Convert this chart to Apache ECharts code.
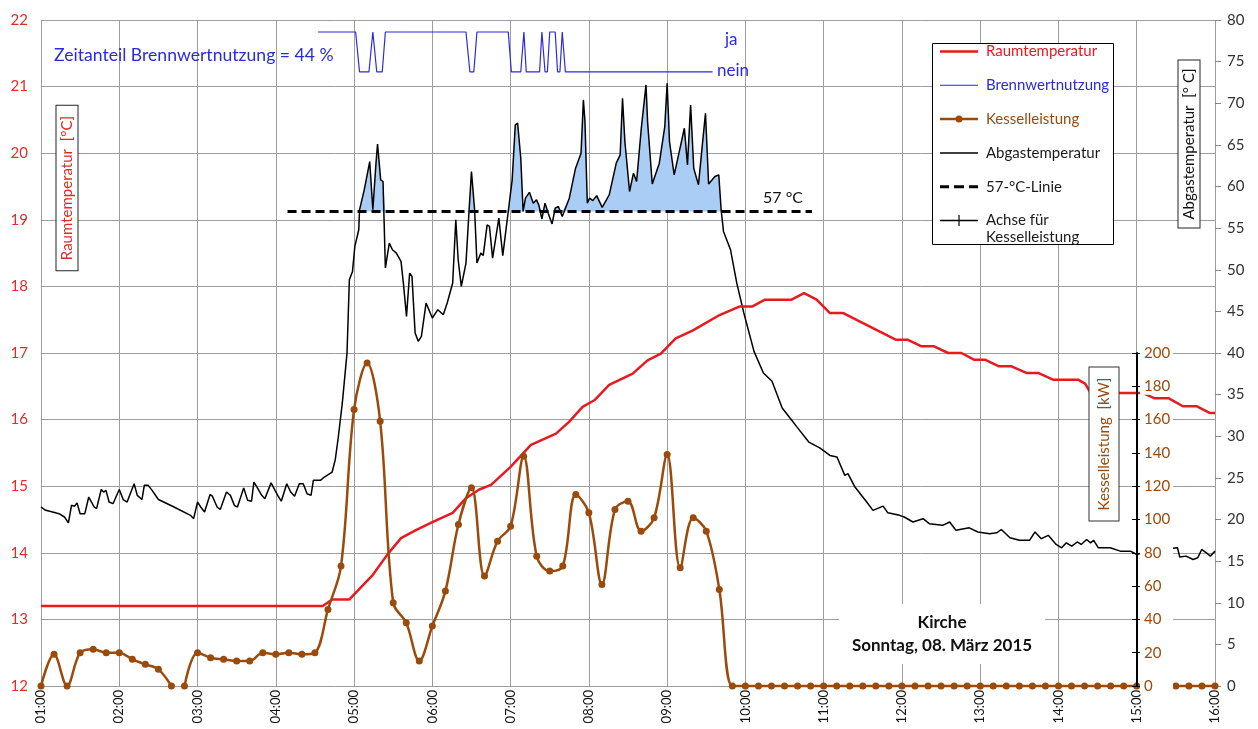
<!DOCTYPE html>
<html><head><meta charset="utf-8">
<script src="https://cdn.jsdelivr.net/npm/echarts@6/dist/echarts.min.js"></script>
<style>html,body{margin:0;padding:0;background:#fff}#c{width:1258px;height:729px}</style>
</head><body><div id="c"></div>
<script>
const FONT = 'Lato, "Open Sans", sans-serif';

// Raumtemperatur [°C] (left axis); time in hours
const raumStunde = [1.0,4.6,4.72,4.94,5.24,5.43,5.6,5.79,6.0,6.26,6.43,6.6,6.75,7.0,7.26,7.58,7.75,7.92,8.07,8.26,8.56,8.75,8.92,9.11,9.33,9.67,9.93,10.09,10.25,10.59,10.75,10.91,11.08,11.25,11.92,12.07,12.25,12.41,12.59,12.76,12.92,13.06,13.24,13.4,13.59,13.74,13.93,14.25,14.34,14.41,15.09,15.13,15.23,15.41,15.59,15.77,15.93,16.0];
const raumTemp   = [13.2,13.2,13.3,13.3,13.67,13.98,14.22,14.34,14.46,14.6,14.82,14.95,15.02,15.29,15.62,15.79,15.97,16.19,16.29,16.52,16.69,16.89,16.99,17.22,17.34,17.57,17.7,17.7,17.8,17.8,17.9,17.8,17.6,17.6,17.2,17.2,17.1,17.1,17.0,17.0,16.9,16.9,16.8,16.8,16.7,16.7,16.6,16.6,16.54,16.4,16.4,16.37,16.32,16.32,16.2,16.2,16.1,16.1];

// Brennwertnutzung: 1 = ja, 0 = nein
const brennStunde = [4.54,5.02,5.07,5.19,5.24,5.29,5.36,5.40,6.43,6.48,6.53,6.57,6.97,7.01,7.13,7.17,7.20,7.37,7.40,7.44,7.47,7.50,7.57,7.60,7.63,7.66,7.70,9.58];
const brennStatus = [1,1,0,0,1,0,0,1,1,0,0,1,1,0,0,1,0,0,1,0,0,1,1,0,0,1,0,0];

// Kesselleistung [kW], 10-minute values (null = gap)
const kesselZeit = ['01:00','01:10','01:20','01:30','01:40','01:50','02:00','02:10','02:20','02:30','02:40','02:45',
 '02:50','03:00','03:10','03:20','03:30','03:40','03:50','04:00','04:10','04:20','04:30','04:40','04:50',
 '05:00','05:10','05:20','05:30','05:40','05:50','06:00','06:10','06:20','06:30','06:40','06:50',
 '07:00','07:10','07:20','07:30','07:40','07:50','08:00','08:10','08:20','08:30','08:40','08:50',
 '09:00','09:10','09:20','09:30','09:40','09:50','10:00','10:10','10:20','10:30','10:40','10:50',
 '11:00','11:10','11:20','11:30','11:40','11:50','12:00','12:10','12:20','12:30','12:40','12:50',
 '13:00','13:10','13:20','13:30','13:40','13:50','14:00','14:10','14:20','14:30','14:40','14:50',
 '15:00','15:10','15:20','15:30','15:40','15:50','16:00'];
const kesselKW = [0,19,0,20,22,20,20,16,13,10,0,null,
 0,20,17,16,15,15,20,19,20,19,20,46,72,
 166,194,159,50,38,15,36,57,97,119,66,87,
 96,138,78,69,72,115,104,61,106,111,93,101,
 139,71,101,93,58,0,0,0,0,0,0,0,
 0,0,0,0,0,0,0,0,0,0,0,0,
 0,0,0,0,0,0,0,0,0,0,0,0,
 0,0,0,0,0,0,0];

// Abgastemperatur [°C] (right axis)
const abgasStunde = [1.00,1.06,1.15,1.23,1.30,1.35,1.39,1.43,1.46,1.50,1.56,1.61,1.68,1.71,1.77,1.80,1.83,1.87,1.92,2.00,2.05,2.10,2.19,2.23,2.29,2.32,2.37,2.42,2.50,2.70,2.91,2.95,3.00,3.04,3.09,3.16,3.19,3.25,3.29,3.37,3.42,3.47,3.51,3.59,3.64,3.69,3.72,3.76,3.82,3.86,3.94,3.99,4.03,4.07,4.14,4.19,4.24,4.30,4.35,4.40,4.45,4.48,4.57,4.62,4.67,4.72,4.76,4.80,4.85,4.89,4.91,4.94,4.98,5.01,5.06,5.07,5.13,5.20,5.24,5.28,5.30,5.34,5.37,5.40,5.45,5.49,5.54,5.60,5.63,5.67,5.71,5.74,5.78,5.82,5.86,5.92,6.00,6.07,6.14,6.19,6.26,6.30,6.33,6.37,6.43,6.47,6.50,6.54,6.57,6.62,6.65,6.70,6.73,6.77,6.85,6.90,6.97,7.02,7.06,7.09,7.13,7.16,7.19,7.24,7.29,7.33,7.36,7.40,7.44,7.48,7.53,7.57,7.61,7.66,7.75,7.83,7.90,7.93,7.95,7.98,8.01,8.05,8.10,8.17,8.26,8.35,8.40,8.43,8.46,8.52,8.57,8.61,8.67,8.73,8.75,8.81,8.90,8.97,9.00,9.03,9.09,9.16,9.22,9.26,9.30,9.34,9.40,9.45,9.49,9.53,9.61,9.66,9.69,9.72,9.81,9.89,9.98,10.11,10.23,10.34,10.47,10.57,10.66,10.81,10.95,11.08,11.17,11.27,11.31,11.40,11.55,11.63,11.76,11.82,11.97,12.03,12.14,12.27,12.35,12.52,12.61,12.69,12.86,12.97,13.12,13.21,13.27,13.38,13.50,13.63,13.70,13.78,13.87,13.97,14.04,14.10,14.17,14.24,14.29,14.36,14.41,14.45,14.51,14.66,14.79,14.92,15.00,15.08,15.13,15.30,15.52,15.55,15.63,15.72,15.78,15.83,15.89,15.94,16.00];
const abgasWert = [21.5,21.1,20.9,20.7,20.3,19.6,21.7,21.6,22.0,20.7,20.7,22.7,21.5,21.3,23.6,23.3,23.5,22.1,21.9,23.6,22.4,22.1,24.3,22.9,22.4,24.1,24.1,23.5,22.4,21.5,20.5,20.1,22.1,21.5,20.9,23.0,22.8,21.5,21.2,23.3,22.9,21.7,21.5,23.8,22.3,22.2,24.5,23.9,22.9,22.5,24.4,23.5,22.8,22.2,24.3,23.3,22.8,24.3,24.3,23.1,22.9,24.7,24.7,25.1,25.4,25.7,27.2,30.0,34.0,38.0,40.0,48.8,49.8,52.8,54.8,57.2,59.6,63.0,57.2,62.8,65.1,60.8,60.6,50.2,53.2,52.4,52.0,51.0,48.4,44.4,49.6,49.2,42.4,41.4,42.0,46.0,44.2,45.2,44.6,46.0,48.4,56.0,51.2,48.0,50.8,57.2,61.8,57.2,50.8,52.0,51.7,55.4,55.2,51.4,56.2,51.7,57.0,60.8,67.4,67.6,63.4,57.0,58.6,59.3,58.0,58.4,57.8,56.1,58.0,56.8,55.5,57.4,57.6,56.4,58.6,62.2,64.0,70.4,67.8,58.0,58.6,58.3,58.9,57.5,59.0,62.8,63.8,70.6,65.4,59.4,61.6,60.6,67.0,72.2,67.8,60.3,62.8,67.2,72.4,65.4,61.4,64.4,67.0,62.6,69.8,62.2,60.2,65.0,68.8,60.3,61.2,61.4,57.2,54.6,52.4,48.4,44.8,40.2,37.6,36.6,33.4,32.2,31.1,29.3,28.6,27.7,27.5,25.3,25.5,23.9,22.1,21.1,21.6,20.8,20.5,20.3,19.7,20.1,19.5,19.3,19.7,18.7,19.0,18.5,18.3,18.4,18.8,17.8,17.5,17.5,18.5,17.7,18.1,17.0,16.6,17.2,16.8,17.3,17.0,17.6,17.2,17.5,16.6,16.6,16.2,16.2,15.8,16.0,16.2,16.4,16.6,15.5,15.6,15.2,15.4,16.4,16.0,15.6,16.2];

// 57-°C-Linie
const grenzStunde = [4.15, 10.85];
const grenzWert = 57;

// axis ticks
const xTicks = {min: 1, max: 16, interval: 1};
const raumTicks = {min: 12, max: 22, interval: 1};
const abgasTicks = {min: 0, max: 80, interval: 5};
const kwTicks = {min: 0, max: 200, interval: 20};

// ---------------------------------------------------------------
const RED = '#e8191f', BLUE = '#2b2bdc', BROWN = '#9a4b0c', FILL = '#a9cdf4', GRID = '#9d9d9d';
const BRENN_JA = 21.82, BRENN_NEIN = 21.22;
const hm = s => { const p = s.split(':').map(Number); return p[0] + p[1] / 60; };
const pad2 = n => (n < 10 ? '0' : '') + n;

const raumData = raumStunde.map((h, i) => [h, raumTemp[i]]);
const brennData = brennStunde.map((h, i) => [h, brennStatus[i] ? BRENN_JA : BRENN_NEIN]);
const kesselData = kesselZeit.map((t, i) => [hm(t), kesselKW[i]]);
const abgasData = abgasStunde.map((h, i) => [h, abgasWert[i]]);
const fillData = abgasStunde
  .map((h, i) => [h, Math.max(abgasWert[i], grenzWert)])
  .filter(p => p[0] >= 4.9 && p[0] <= 9.75);
const grenzData = grenzStunde.map(h => [h, grenzWert]);

const CORNERS = 'M0,0h0.01v0.01h-0.01z M37.99,13.99h0.01v0.01h-0.01z ';
const ICONS = {
  raum: 'path://' + CORNERS + 'M0,5.75h38v2.5h-38z',
  brenn: 'path://' + CORNERS + 'M0,6.5h38v1h-38z',
  kessel: 'path://' + CORNERS + 'M0,5.75h38v2.5h-38z M15.5,7a3.5,3.5 0 1,1 7,0a3.5,3.5 0 1,1 -7,0z',
  abgas: 'path://' + CORNERS + 'M0,6.25h38v1.5h-38z',
  grenz: 'path://' + CORNERS + 'M0,5.5h9v3h-9z M14,5.5h10v3h-10z M29,5.5h9v3h-9z',
  achse: 'path://' + CORNERS + 'M0,6.25h38v1.5h-38z M18.4,1.5h1.2v11h-1.2z'
};

const chart = echarts.init(document.getElementById('c'), null, {renderer: 'canvas'});
const txt = (o) => Object.assign({fontFamily: FONT}, o);

chart.setOption({
  animation: false,
  textStyle: {fontFamily: FONT},
  grid: [
    {left: 41, right: 43, top: 20, bottom: 43, containLabel: false},
    {left: 41, right: 43, top: 353, bottom: 43, containLabel: false}
  ],
  xAxis: [
    {type: 'value', gridIndex: 0, min: xTicks.min, max: xTicks.max, interval: xTicks.interval,
     axisLine: {show: false}, axisTick: {show: false},
     splitLine: {show: true, lineStyle: {color: GRID, width: 1}},
     axisLabel: {rotate: 90, margin: 4, color: '#111', fontSize: 13, fontFamily: FONT,
                 formatter: v => pad2(v) + ':00'}},
    {type: 'value', gridIndex: 1, min: xTicks.min, max: xTicks.max, interval: xTicks.interval, show: false}
  ],
  yAxis: [
    {type: 'value', gridIndex: 0, position: 'left', min: raumTicks.min, max: raumTicks.max, interval: raumTicks.interval,
     axisLine: {show: false}, axisTick: {show: false},
     splitLine: {show: true, lineStyle: {color: GRID, width: 1}},
     axisLabel: {color: '#d9302c', fontSize: 15, margin: 13, fontFamily: FONT}},
    {type: 'value', gridIndex: 0, position: 'right', min: abgasTicks.min, max: abgasTicks.max, interval: abgasTicks.interval,
     axisLine: {show: false}, axisTick: {show: true, length: 6, lineStyle: {color: '#888'}},
     splitLine: {show: false},
     axisLabel: {color: '#333', fontSize: 15, margin: 12, fontFamily: FONT}},
    {type: 'value', gridIndex: 1, position: 'right', offset: -78, z: 10,
     min: kwTicks.min, max: kwTicks.max, interval: kwTicks.interval,
     axisLine: {show: true, lineStyle: {color: '#000', width: 2}},
     axisTick: {show: true, length: 5, lineStyle: {color: '#000', width: 1}},
     splitLine: {show: false},
     axisLabel: {color: BROWN, fontSize: 15, margin: 3, fontFamily: FONT, backgroundColor: '#fff',
                 padding: [1, 3, 1, 4], width: 26, align: 'left'}},
    {type: 'value', gridIndex: 1, position: 'right', offset: -78, z: 10,
     min: kwTicks.min, max: kwTicks.max, interval: kwTicks.interval,
     axisLine: {show: false}, axisTick: {show: true, inside: true, length: 5, lineStyle: {color: '#000', width: 1}},
     axisLabel: {show: false}, splitLine: {show: false}}
  ],
  legend: {
    orient: 'vertical', left: 940, top: 43, padding: 0, itemGap: 16.8,
    itemWidth: 38, itemHeight: 14, z: 60, selectedMode: false,
    itemStyle: {borderWidth: 0, borderColor: 'transparent'},
    textStyle: {fontFamily: FONT, fontSize: 15, lineHeight: 17, color: '#1a1a1a', padding: [0, 0, 0, 3]},
    formatter: n => n === 'Achse für Kesselleistung' ? 'Achse für' : n,
    data: [
      {name: 'Raumtemperatur', icon: ICONS.raum, textStyle: {color: RED}},
      {name: 'Brennwertnutzung', icon: ICONS.brenn, textStyle: {color: BLUE}},
      {name: 'Kesselleistung', icon: ICONS.kessel, textStyle: {color: BROWN}},
      {name: 'Abgastemperatur', icon: ICONS.abgas, textStyle: {color: '#1a1a1a'}},
      {name: '57-°C-Linie', icon: ICONS.grenz, textStyle: {color: '#1a1a1a'}},
      {name: 'Achse für Kesselleistung', icon: ICONS.achse, textStyle: {color: '#1a1a1a'}}
    ]
  },
  series: [
    {name: 'fill', type: 'line', xAxisIndex: 0, yAxisIndex: 1, data: fillData,
     symbol: 'none', lineStyle: {width: 0, opacity: 0}, areaStyle: {color: FILL, opacity: 1, origin: grenzWert},
     silent: true, z: 1},
    {name: 'Abgastemperatur', type: 'line', xAxisIndex: 0, yAxisIndex: 1, data: abgasData,
     symbol: 'none', color: '#000', itemStyle: {color: '#000'}, lineStyle: {color: '#000', width: 1.5}, z: 3},
    {name: '57-°C-Linie', type: 'line', xAxisIndex: 0, yAxisIndex: 1, data: grenzData,
     symbol: 'none', color: '#000', itemStyle: {color: '#000'}, lineStyle: {color: '#000', width: 3, type: [9, 5]}, z: 4},
    {name: 'Brennwertnutzung', type: 'line', xAxisIndex: 0, yAxisIndex: 0, data: brennData,
     symbol: 'none', color: BLUE, itemStyle: {color: BLUE}, lineStyle: {color: BLUE, width: 1.2}, z: 3},
    {name: 'Raumtemperatur', type: 'line', xAxisIndex: 0, yAxisIndex: 0, data: raumData,
     symbol: 'none', color: RED, itemStyle: {color: RED}, lineStyle: {color: RED, width: 2.5}, z: 4},
    {name: 'Kesselleistung', type: 'line', xAxisIndex: 1, yAxisIndex: 2, data: kesselData,
     smooth: 0.35, connectNulls: false, symbol: 'circle', symbolSize: 7, showSymbol: true, clip: false,
     color: BROWN, itemStyle: {color: BROWN, borderWidth: 0}, lineStyle: {color: BROWN, width: 2.5}, z: 5},
    {name: 'Achse für Kesselleistung', type: 'line', xAxisIndex: 0, yAxisIndex: 0, data: [],
     color: '#000', itemStyle: {color: '#000'}, lineStyle: {color: '#000'}}
  ],
  graphic: [
    {type: 'rect', z: 50, shape: {x: 932.5, y: 43.5, width: 181, height: 201},
     style: {fill: '#fff', stroke: '#000', lineWidth: 1}},
    {type: 'text', z: 61, x: 986, y: 237,
     style: txt({text: 'Kesselleistung', fontSize: 15, fill: '#1a1a1a', align: 'left', verticalAlign: 'middle'})},
    {type: 'text', z: 50, x: 54, y: 55,
     style: txt({text: 'Zeitanteil Brennwertnutzung = 44 %', fontSize: 17.6, fill: BLUE, align: 'left', verticalAlign: 'middle'})},
    {type: 'text', z: 50, x: 725, y: 40,
     style: txt({text: 'ja', fontSize: 17, fill: BLUE, align: 'left', verticalAlign: 'middle'})},
    {type: 'text', z: 50, x: 717, y: 71,
     style: txt({text: 'nein', fontSize: 17, fill: BLUE, align: 'left', verticalAlign: 'middle'})},
    {type: 'text', z: 50, x: 763, y: 198,
     style: txt({text: '57 °C', fontSize: 16, fill: '#111', align: 'left', verticalAlign: 'middle'})},
    {type: 'text', z: 50, x: 67, y: 188, rotation: Math.PI / 2,
     style: txt({text: 'Raumtemperatur  [°C]', fontSize: 15, fill: '#e02a26', align: 'center', verticalAlign: 'middle',
       backgroundColor: '#fff', borderColor: '#222', borderWidth: 1, padding: [3, 10, 3, 10]})},
    {type: 'text', z: 50, x: 1189, y: 144, rotation: Math.PI / 2,
     style: txt({text: 'Abgastemperatur  [° C]', fontSize: 15, fill: '#111', align: 'center', verticalAlign: 'middle',
       backgroundColor: '#fff', borderColor: '#222', borderWidth: 1, padding: [3, 8, 3, 8]})},
    {type: 'text', z: 50, x: 1104, y: 444, rotation: Math.PI / 2,
     style: txt({text: 'Kesselleistung  [kW]', fontSize: 15, fill: BROWN, align: 'center', verticalAlign: 'middle',
       backgroundColor: '#fff', borderColor: '#333', borderWidth: 1, padding: [7, 10, 7, 10]})},
    {type: 'text', z: 50, x: 942, y: 634,
     style: txt({text: 'Kirche\nSonntag, 08. März 2015', fontSize: 17, fontWeight: 'bold', lineHeight: 23, fill: '#111',
       align: 'center', verticalAlign: 'middle', backgroundColor: '#fff', padding: [7, 13, 7, 13]})}
  ]
});
</script>
</body></html>
